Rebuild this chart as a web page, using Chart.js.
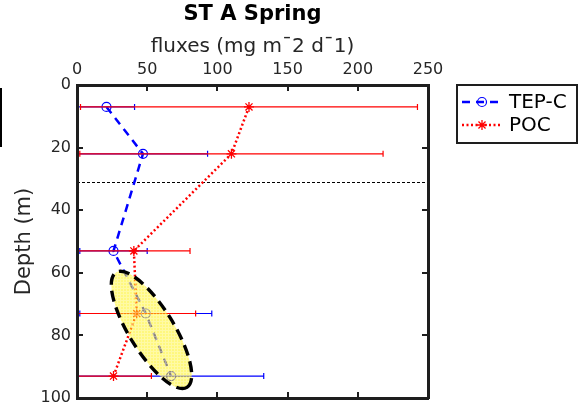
<!DOCTYPE html>
<html>
<head>
<meta charset="utf-8">
<script src="https://cdn.jsdelivr.net/npm/chart.js@4.4.1/dist/chart.umd.min.js"></script>
<style>
  html, body { margin: 0; padding: 0; background: #fff; overflow: hidden; }
  #wrap { width: 586px; height: 414px; position: relative; }
</style>
</head>
<body>
<div id="wrap"><canvas id="c" width="586" height="414"></canvas></div>
<script>
// Station A, spring: sinking fluxes by depth (mg m-2 d-1)
const depths   = [7, 22, 53, 73, 93];
const tepC     = [21, 47, 26, 49, 67];
const tepCErr  = [20, 46, 24, 47, 66];
const poc      = [122.5, 110, 40.5, 42.5, 26];
const pocErr   = [120, 108, 40, 42, 27];

const xTicks = [0, 50, 100, 150, 200, 250];
const yTicks = [0, 20, 40, 60, 80, 100];

// mixed layer depth (m)
const mixedLayerDepth = 31;
// highlighted zone: major-axis end points [flux, depth] and minor/major ratio
const zoneAxisStart = [27.8, 59.9];
const zoneAxisEnd   = [78.3, 96.6];
const zoneRatio     = 0.33;

const FONT = "'DejaVu Sans', sans-serif";
const INK = '#1e1e1e';

function pts(xs) { return xs.map((v, i) => ({ x: v, y: depths[i] })); }

const errorBars = {
  id: 'errorBars',
  beforeDatasetDraw(chart, args) {
    const ds = chart.data.datasets[args.index];
    const xs = chart.scales.x, ys = chart.scales.y, a = chart.chartArea, ctx = chart.ctx;
    ctx.save();
    ctx.beginPath();
    ctx.rect(a.left, a.top, a.right - a.left, a.bottom - a.top);
    ctx.clip();
    ctx.strokeStyle = ds.borderColor;
    ctx.lineWidth = 1.2;
    ctx.setLineDash([]);
    ds.data.forEach((p, i) => {
      const e = ds.errors[i];
      const x0 = xs.getPixelForValue(p.x - e);
      const x1 = xs.getPixelForValue(p.x + e);
      const py = ys.getPixelForValue(p.y);
      ctx.beginPath();
      ctx.moveTo(x0, py); ctx.lineTo(x1, py);
      ctx.moveTo(x0, py - 3); ctx.lineTo(x0, py + 3);
      ctx.moveTo(x1, py - 3); ctx.lineTo(x1, py + 3);
      ctx.stroke();
    });
    ctx.restore();
  }
};

const decor = {
  id: 'decor',
  beforeDatasetsDraw(chart) {
    const ys = chart.scales.y, a = chart.chartArea, ctx = chart.ctx;
    // mixed layer depth marker
    ctx.save();
    const my = Math.round(ys.getPixelForValue(mixedLayerDepth)) + 0.5;
    ctx.strokeStyle = '#000';
    ctx.lineWidth = 1;
    ctx.setLineDash([3, 2]);
    ctx.beginPath();
    ctx.moveTo(a.left, my);
    ctx.lineTo(a.right, my);
    ctx.stroke();
    ctx.restore();
  },
  afterDatasetsDraw(chart) {
    const xs = chart.scales.x, ys = chart.scales.y, ctx = chart.ctx;
    // highlighted zone
    const p1 = [xs.getPixelForValue(zoneAxisStart[0]), ys.getPixelForValue(zoneAxisStart[1])];
    const p2 = [xs.getPixelForValue(zoneAxisEnd[0]), ys.getPixelForValue(zoneAxisEnd[1])];
    const cx = (p1[0] + p2[0]) / 2, cy = (p1[1] + p2[1]) / 2;
    const ra = Math.hypot(p2[0] - p1[0], p2[1] - p1[1]) / 2;
    const rb = ra * zoneRatio;
    const rot = Math.atan2(p2[1] - p1[1], p2[0] - p1[0]);

    const tile = document.createElement('canvas');
    tile.width = 3; tile.height = 3;
    const tc = tile.getContext('2d');
    tc.fillStyle = 'rgba(255,242,20,0.55)';
    tc.fillRect(0, 0, 3, 3);
    tc.fillStyle = 'rgba(255,255,255,0.3)';
    tc.fillRect(0, 0, 3, 1);
    tc.fillRect(0, 1, 1, 2);

    ctx.save();
    ctx.beginPath();
    ctx.ellipse(cx, cy, ra, rb, rot, 0, Math.PI * 2);
    ctx.fillStyle = ctx.createPattern(tile, 'repeat');
    ctx.fill();
    ctx.setLineDash([11, 6]);
    ctx.lineWidth = 3.4;
    ctx.strokeStyle = '#000';
    ctx.stroke();
    ctx.restore();
  },
  afterDraw(chart) {
    const xs = chart.scales.x, ys = chart.scales.y, a = chart.chartArea, ctx = chart.ctx;
    const L0 = Math.round(a.left), R0 = Math.round(a.right);
    const T0 = Math.round(a.top), B0 = Math.round(a.bottom);

    // axes box with inward ticks on all four sides
    ctx.save();
    ctx.fillStyle = INK;
    xTicks.forEach(v => {
      const px = Math.round(xs.getPixelForValue(v));
      ctx.fillRect(px - 1, T0, 2, 6);
      ctx.fillRect(px - 1, B0 - 6, 2, 6);
    });
    yTicks.forEach(v => {
      const py = Math.round(ys.getPixelForValue(v));
      ctx.fillRect(L0, py - 1, 6, 2);
      ctx.fillRect(R0 - 6, py - 1, 6, 2);
    });
    ctx.fillRect(L0 - 1, T0 - 1, R0 - L0 + 2, 3);
    ctx.fillRect(L0 - 1, B0 - 1, R0 - L0 + 2, 3);
    ctx.fillRect(L0 - 1, T0 - 1, 3, B0 - T0 + 2);
    ctx.fillRect(R0 - 1, T0 - 1, 3, B0 - T0 + 2);
    ctx.restore();

    // titles
    ctx.save();
    ctx.textAlign = 'center';
    ctx.textBaseline = 'alphabetic';
    const mid = (a.left + a.right) / 2;
    ctx.fillStyle = '#000';
    ctx.font = 'bold 21px ' + FONT;
    ctx.fillText('ST A Spring', mid, 20);
    ctx.fillStyle = '#262626';
    ctx.font = '20px ' + FONT;
    ctx.fillText('fluxes (mg m\u00AF2 d\u00AF1)', mid, 52);
    ctx.translate(30, (a.top + a.bottom) / 2);
    ctx.rotate(-Math.PI / 2);
    ctx.font = '21px ' + FONT;
    ctx.fillText('Depth (m)', 0, 0);
    ctx.restore();

    // legend
    const L = { x: 457, y: 85, w: 120, h: 58 };
    ctx.save();
    ctx.fillStyle = '#fff';
    ctx.fillRect(L.x, L.y, L.w, L.h);
    ctx.fillStyle = INK;
    ctx.fillRect(L.x - 1, L.y - 1, L.w + 2, 2);
    ctx.fillRect(L.x - 1, L.y + L.h - 1, L.w + 2, 2);
    ctx.fillRect(L.x - 1, L.y - 1, 2, L.h + 2);
    ctx.fillRect(L.x + L.w - 1, L.y - 1, 2, L.h + 2);
    const rows = [102, 125];
    chart.data.datasets.forEach((ds, i) => {
      const ry = rows[i];
      ctx.strokeStyle = ds.borderColor;
      ctx.lineWidth = ds.borderWidth;
      ctx.setLineDash(ds.borderDash);
      ctx.beginPath();
      ctx.moveTo(462, ry); ctx.lineTo(502, ry);
      ctx.stroke();
      ctx.setLineDash([]);
      ctx.strokeStyle = ds.pointBorderColor;
      ctx.fillStyle = ds.pointBackgroundColor;
      ctx.lineWidth = ds.pointBorderWidth;
      Chart.helpers.drawPoint(ctx, {
        pointStyle: ds.pointStyle, radius: ds.pointRadius, rotation: 0,
        borderWidth: ds.pointBorderWidth
      }, 482, ry);
      ctx.fillStyle = '#000';
      ctx.font = '20px ' + FONT;
      ctx.textAlign = 'left';
      ctx.textBaseline = 'middle';
      ctx.fillText(ds.label, 509, ry + 1);
    });
    ctx.restore();

    // edge of the neighbouring panel at the far left
    ctx.save();
    ctx.fillStyle = '#000';
    ctx.fillRect(0, 88, 2, 59);
    ctx.restore();
  }
};

new Chart(document.getElementById('c'), {
  type: 'line',
  data: {
    datasets: [
      {
        label: 'TEP-C',
        data: pts(tepC),
        errors: tepCErr,
        order: 1,
        borderColor: '#0000ff',
        borderWidth: 2.5,
        borderDash: [8, 6],
        pointStyle: 'circle',
        pointRadius: 4.5,
        pointBorderWidth: 1.2,
        pointBorderColor: '#0000ff',
        pointBackgroundColor: 'rgba(0,0,0,0)',
        fill: false,
        tension: 0
      },
      {
        label: 'POC',
        data: pts(poc),
        errors: pocErr,
        order: 0,
        borderColor: '#ff0000',
        borderWidth: 2.5,
        borderDash: [2, 2.5],
        pointStyle: 'star',
        pointRadius: 5,
        pointBorderWidth: 1.3,
        pointBorderColor: '#ff0000',
        pointBackgroundColor: '#ff0000',
        fill: false,
        tension: 0
      }
    ]
  },
  options: {
    responsive: false,
    devicePixelRatio: 1,
    animation: false,
    layout: { padding: { left: 0, top: 0, right: 158, bottom: 16 } },
    plugins: { legend: { display: false }, title: { display: false }, tooltip: { enabled: false } },
    scales: {
      x: {
        type: 'linear',
        position: 'top',
        min: 0, max: 250,
        afterBuildTicks: s => { s.ticks = xTicks.map(v => ({ value: v })); },
        afterFit: s => { s.height = 85; },
        grid: { display: false, drawTicks: false },
        border: { display: false },
        ticks: { font: { family: FONT, size: 16 }, color: '#262626', padding: 6, maxRotation: 0 }
      },
      y: {
        type: 'linear',
        reverse: true,
        min: 0, max: 100,
        afterBuildTicks: s => { s.ticks = yTicks.map(v => ({ value: v })); },
        afterFit: s => { s.width = 77; },
        grid: { display: false, drawTicks: false },
        border: { display: false },
        ticks: { font: { family: FONT, size: 16 }, color: '#262626', padding: 6 }
      }
    }
  },
  plugins: [errorBars, decor]
});
</script>
</body>
</html>
